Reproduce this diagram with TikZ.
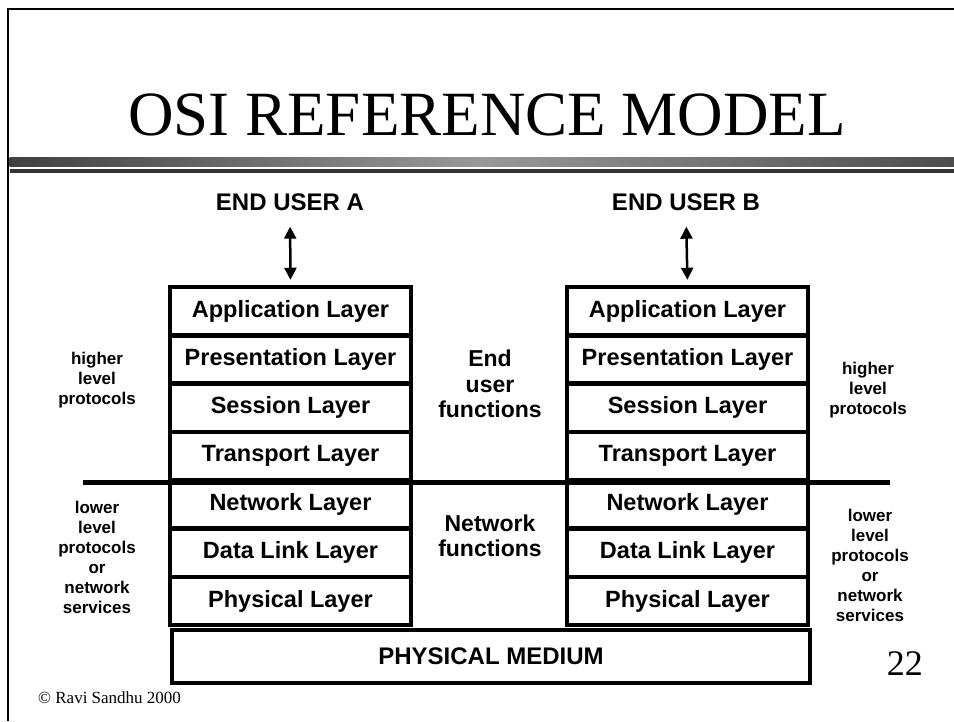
\documentclass[tikz,border=0pt]{standalone}
\usepackage{fontspec}
\setmainfont{Liberation Serif}
\newfontfamily\arialb{Liberation Sans}[BoldFont={Liberation Sans Bold}]
\usetikzlibrary{arrows.meta}
\begin{document}
\begin{tikzpicture}[x=1pt,y=-1pt,
  layerbox/.style={draw,line width=4.5pt,minimum width=241pt,minimum height=48.3pt,inner sep=0pt,font=\arialb\bfseries\fontsize{23.5}{28}\selectfont},
  hdr/.style={font=\arialb\bfseries\fontsize{24}{28}\selectfont,inner sep=2pt},
  side/.style={align=center,font=\arialb\bfseries\fontsize{17}{20}\selectfont,inner sep=0pt},
  mid/.style={align=center,font=\arialb\bfseries\fontsize{23}{25.5}\selectfont,inner sep=0pt},
  biarrow/.style={line width=2.5pt,{Triangle[length=12pt,width=12pt]}-{Triangle[length=12pt,width=12pt]}}
]
\useasboundingbox (0,0) rectangle (954,721);
% frame
\draw[line width=2.5pt] (954,9) -- (8,9) -- (8,721);
% title
\node[anchor=base,font=\fontsize{63}{66}\selectfont,inner sep=0pt] (title) at (487,135) {OSI REFERENCE MODEL};
% gradient bars
\shade[left color=black!75,right color=black!70,middle color=black!40] (9.5,157) rectangle (954,166);
\fill[black!80] (9.5,169) rectangle (954,173);
% headers
\node[hdr] (ua) at (290,202) {END USER A};
\node[hdr] (ub) at (686,202) {END USER B};
% left stack
\foreach \n/\t [count=\i from 0] in {appA/Application Layer,preA/Presentation Layer,sesA/Session Layer,traA/Transport Layer,netA/Network Layer,dlA/Data Link Layer,phyA/Physical Layer}{
  \node[layerbox] (\n) at (290.5,{287+24.15+48.3*\i}) {\t};
}
\foreach \n/\t [count=\i from 0] in {appB/Application Layer,preB/Presentation Layer,sesB/Session Layer,traB/Transport Layer,netB/Network Layer,dlB/Data Link Layer,phyB/Physical Layer}{
  \node[layerbox] (\n) at (687.5,{287+24.15+48.3*\i}) {\t};
}
% medium
\node[draw,line width=4.5pt,minimum width=638pt,minimum height=53pt,inner sep=0pt,font=\arialb\bfseries\fontsize{24}{28}\selectfont] (med) at (491,656.5) {PHYSICAL MEDIUM};
% arrows
\draw[biarrow,shorten <=14pt,shorten >=5pt] (ua.south) -- (appA.north);
\draw[biarrow,shorten <=14pt,shorten >=5pt] (ub.south) -- (appB.north);
% divider
\coordinate (dl) at (83,482);
\coordinate (dr) at (890,482);
\draw[line width=5pt] (dl) -- (dr);
% side labels
\node[side] (hl) at (97,380) {higher\\level\\protocols};
\node[side] (hr) at (868,390) {higher\\level\\protocols};
\node[side] (ll) at (97,557) {lower\\level\\protocols\\or\\network\\services};
\node[side] (lr) at (870,565) {lower\\level\\protocols\\or\\network\\services};
\node[mid] (euf) at (490,384) {End\\user\\functions};
\node[mid] (nf) at (490,536) {Network\\functions};
% footer
\node[anchor=base west,font=\fontsize{17}{19}\selectfont,inner sep=0pt] (copy) at (38,703) {© Ravi Sandhu 2000};
\node[anchor=base east,font=\fontsize{36}{38}\selectfont,inner sep=0pt] (pg) at (923,675) {22};
\end{tikzpicture}
\end{document}
